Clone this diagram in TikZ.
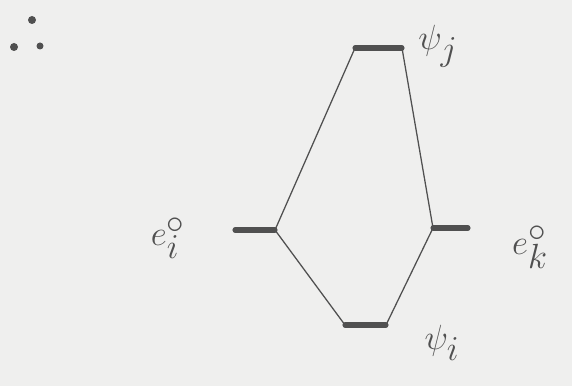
\documentclass[tikz,border=0pt]{standalone}
\usepackage{tikz}
\usetikzlibrary{calc}
\definecolor{paper}{RGB}{239,239,238}
\definecolor{ink}{RGB}{80,80,80}
\tikzset{
 level/.style={draw=ink,line width=3.6pt,line cap=round},
 mix/.style={draw=ink,line width=.9pt},
 lab/.style={text=ink,font=\fontsize{50}{54}\selectfont,inner sep=0},
 spot/.style={fill=ink,draw=none}
}

\begin{document}
\begin{tikzpicture}[x=0.025cm,y=-0.025cm]
\path[use as bounding box,fill=paper] (0,0) rectangle (572,386);
% levels
\coordinate (jL) at (355,48);
\coordinate (jR) at (402,48);
\coordinate (iL) at (235,230);
\coordinate (iR) at (275,230);
\coordinate (kL) at (433,228);
\coordinate (kR) at (468,228);
\coordinate (bL) at (345,325);
\coordinate (bR) at (386,325);
\draw[level] (jL) -- (jR);
\draw[level] (iL) -- (iR);
\draw[level] (kL) -- (kR);
\draw[level] (bL) -- (bR);
% mixing lines
\draw[mix] (jL) -- (iR);
\draw[mix] (jR) -- (kL);
\draw[mix] (iR) -- (bL);
\draw[mix] (kL) -- (bR);
% labels
\node[lab] (psij) at (438,46) {$\psi_j$};
\node[lab] (psii) at (442,343) {$\psi_i$};
\node[lab] (ei) at (168,238) {$e^{\circ}_i$};
\node[lab] (ek) at (530,247) {$e^{\circ}_k$};
% dots
\fill[spot] (32,20) circle (4);
\fill[spot] (14,47) circle (4);
\fill[spot] (40,46) circle (3.5);
\end{tikzpicture}
\end{document}
